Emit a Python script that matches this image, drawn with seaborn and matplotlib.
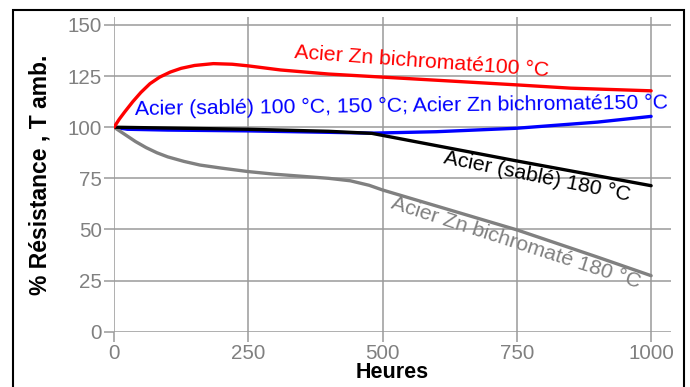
import matplotlib
matplotlib.use("Agg")
import matplotlib.pyplot as plt
import seaborn as sns
import pandas as pd
from matplotlib.patches import Rectangle

# Data
red_x = [0, 10, 20, 35, 50, 67, 85, 105, 125, 150, 185, 220, 250, 310, 400, 500, 750, 850, 1000]
red_y = [100, 104, 107.5, 112.5, 117, 121.3, 124.5, 127, 128.8, 130.2, 131.1, 130.8, 130, 128, 126, 124.5, 120.7, 119.1, 117.8]

blue_x = [0, 25, 100, 250, 400, 480, 600, 750, 900, 1000]
blue_y = [100, 99, 98.6, 98.2, 97.5, 97.1, 97.8, 99.5, 102.5, 105.3]

black_x = [0, 100, 250, 400, 480, 750, 1000]
black_y = [100, 99.6, 99, 98, 97, 83.5, 71.4]

gray_x = [0, 20, 40, 60, 80, 100, 130, 160, 200, 250, 300, 350, 400, 440, 475, 500, 600, 750, 900, 1000]
gray_y = [100, 96.5, 93, 90, 87.5, 85.5, 83.3, 81.5, 80, 78.3, 77, 76, 75, 73.8, 71.6, 69.3, 61.5, 49.8, 36.5, 27.4]

x_ticks = [0, 250, 500, 750, 1000]
y_ticks = [0, 25, 50, 75, 100, 125, 150]

labels = {
    "red": "Acier Zn bichromaté100 °C",
    "blue": "Acier (sablé) 100 °C, 150 °C; Acier Zn bichromaté150 °C",
    "black": "Acier (sablé) 180 °C",
    "gray": "Acier Zn bichromaté 180 °C",
}

sns.set_theme(style="white")
plt.rcParams["font.family"] = ["Liberation Sans", "DejaVu Sans"]

fig = plt.figure(figsize=(6.9, 3.87), dpi=100)
ax = fig.add_axes([114 / 690, 1 - 331.7 / 387, (671 - 114) / 690, (331.7 - 17) / 387])

series = [
    (blue_x, blue_y, "#0000ff", 2),
    (black_x, black_y, "#000000", 3),
    (gray_x, gray_y, "#808080", 2),
    (red_x, red_y, "#ff0000", 4),
]
for xs, ys, col, z in series:
    df = pd.DataFrame({"h": xs, "r": ys})
    sns.lineplot(data=df, x="h", y="r", color=col, lw=2.4, ax=ax, zorder=z,
                 estimator=None, sort=False)

ax.set_xlim(0, 1037)
ax.set_ylim(0, 153.9)
ax.set_xticks(x_ticks)
ax.set_yticks(y_ticks)
ax.grid(True, color="#9a9a9a", lw=1.1)
ax.set_axisbelow(True)
for s in ax.spines.values():
    s.set_visible(False)
ax.tick_params(axis="both", direction="out", length=7, width=1.1, color="#9a9a9a",
               labelcolor="#808080", labelsize=14.8, pad=1.5, bottom=True, left=True)

ax.set_xlabel("Heures", fontsize=15.5, fontweight="bold", color="black", labelpad=-0.5)
ax.set_ylabel("% Résistance , T amb.", fontsize=16.5, fontweight="bold", color="black", labelpad=12)

kw = dict(ha="center", va="center", rotation_mode="anchor", fontsize=15.3)
ax.text(572, 132, labels["red"], color="#ff0000", rotation=-4.1, **kw)
ax.text(536, 110.2, labels["blue"], color="#0000ff", rotation=0.7, **kw)
ax.text(787, 75.7, labels["black"], color="#000000", rotation=-11.5, **kw)
ax.text(749, 43.4, labels["gray"], color="#808080", rotation=-17.9, **kw)

frame = Rectangle((12.5 / 690, -0.2), (683.5 - 12.5) / 690, 1.2 - 10 / 387,
                  transform=fig.transFigure, fill=False, edgecolor="black", lw=1.5)
fig.patches.append(frame)

fig.savefig("out.png", dpi=100)
